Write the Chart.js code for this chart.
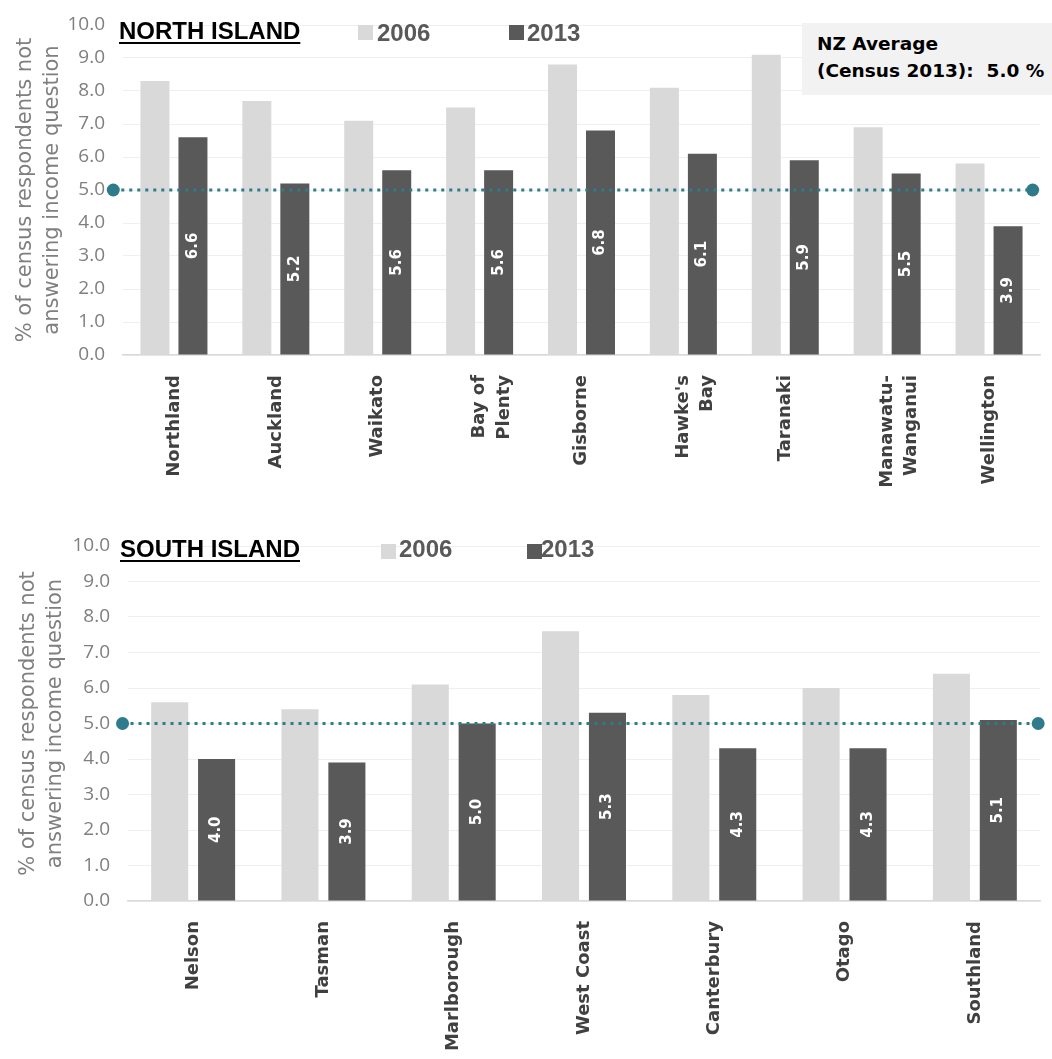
<!DOCTYPE html>
<html lang="en">
<head>
<meta charset="UTF-8">
<title>Income question non-response by region</title>
<script src="https://cdn.jsdelivr.net/npm/chart.js@4.4.1/dist/chart.umd.min.js"></script>
<style>
    body { margin: 0; background: #fff; }
    #page { position: relative; width: 1052px; height: 1059px; overflow: hidden; }
    canvas { position: absolute; left: 0; }
    .heading {
        position: absolute;
        font: bold 24px "Liberation Sans", Arial, sans-serif;
        line-height: 24px;
        color: #000;
        text-decoration: underline;
        text-decoration-thickness: 2px;
        text-underline-offset: 3px;
        white-space: nowrap;
    }
    .swatch { position: absolute; width: 15px; height: 15px; }
    .key {
        position: absolute;
        font: bold 24px "Liberation Sans", Arial, sans-serif;
        line-height: 24px;
        color: #595959;
    }
    .avg-box {
        position: absolute;
        left: 802px; top: 23px; width: 250px; height: 72px;
        background: #f2f2f2;
        font: bold 18.5px "DejaVu Sans", sans-serif;
        line-height: 27px;
        color: #000;
        padding: 7px 0 0 15px;
        box-sizing: border-box;
        white-space: nowrap;
    }
</style>
</head>
<body>
<div id="page">
    <canvas id="north" width="1052" height="505" style="top:0"></canvas>
    <canvas id="south" width="1052" height="549" style="top:510px"></canvas>

    <div class="heading" style="left:119px; top:19px">NORTH ISLAND</div>
    <div class="swatch" style="left:358px; top:25px; background:#d9d9d9"></div>
    <div class="key" style="left:377px; top:21px">2006</div>
    <div class="swatch" style="left:509px; top:25px; background:#595959"></div>
    <div class="key" style="left:527px; top:21px">2013</div>
    <div class="avg-box">NZ Average<br>(Census 2013):&nbsp; 5.0 %</div>

    <div class="heading" style="left:120px; top:537px">SOUTH ISLAND</div>
    <div class="swatch" style="left:381px; top:544px; background:#d9d9d9"></div>
    <div class="key" style="left:399px; top:537px">2006</div>
    <div class="swatch" style="left:527px; top:544px; background:#595959"></div>
    <div class="key" style="left:541px; top:537px">2013</div>
</div>
<script>
    // regions and % of respondents not answering the income question
    var northRegions = ['Northland', 'Auckland', 'Waikato', ['Bay of', 'Plenty'], 'Gisborne',
        ["Hawke's", 'Bay'], 'Taranaki', ['Manawatu-', 'Wanganui'], 'Wellington'];
    var north2006 = [8.3, 7.7, 7.1, 7.5, 8.8, 8.1, 9.1, 6.9, 5.8];
    var north2013 = [6.6, 5.2, 5.6, 5.6, 6.8, 6.1, 5.9, 5.5, 3.9];

    var southRegions = ['Nelson', 'Tasman', 'Marlborough', 'West Coast', 'Canterbury', 'Otago', 'Southland'];
    var south2006 = [5.6, 5.4, 6.1, 7.6, 5.8, 6.0, 6.4];
    var south2013 = [4.0, 3.9, 5.0, 5.3, 4.3, 4.3, 5.1];

    var NZ_AVG = 5.0;
    var yTitle = ['% of census respondents not', 'answering income question'];

    // dotted national average line with a dot at each end
    var avgLine = {
        id: 'avgLine',
        afterDatasetsDraw: function (chart, args, opts) {
            var ctx = chart.ctx;
            var area = chart.chartArea;
            var y = chart.scales.y.getPixelForValue(NZ_AVG);
            var x0 = area.left + opts.from * area.width;
            var x1 = area.left + opts.to * area.width;
            ctx.save();
            ctx.strokeStyle = '#2e7b8b';
            ctx.fillStyle = '#2e7b8b';
            ctx.lineWidth = 3;
            ctx.setLineDash([3, 5]);
            ctx.beginPath();
            ctx.moveTo(x0, y);
            ctx.lineTo(x1, y);
            ctx.stroke();
            ctx.setLineDash([]);
            [x0, x1].forEach(function (x) {
                ctx.beginPath();
                ctx.arc(x, y, 6.5, 0, Math.PI * 2);
                ctx.fill();
            });
            ctx.restore();
        }
    };

    // white rotated values inside the 2013 bars
    var barValueLabels = {
        id: 'barValueLabels',
        afterDatasetsDraw: function (chart) {
            var ctx = chart.ctx;
            var values = chart.data.datasets[1].data;
            ctx.save();
            ctx.fillStyle = '#ffffff';
            ctx.font = 'bold 15px "DejaVu Sans", sans-serif';
            ctx.textAlign = 'center';
            ctx.textBaseline = 'middle';
            chart.getDatasetMeta(1).data.forEach(function (bar, i) {
                ctx.save();
                ctx.translate(bar.x, (bar.y + bar.base) / 2);
                ctx.rotate(-Math.PI / 2);
                ctx.fillText(values[i].toFixed(1), 0, 0);
                ctx.restore();
            });
            ctx.restore();
        }
    };

    function buildChart(id, regions, v2006, v2013, box) {
        var canvas = document.getElementById(id);
        var H = canvas.height;
        return new Chart(canvas, {
            type: 'bar',
            data: {
                labels: regions,
                datasets: [{
                    label: '2006',
                    data: v2006,
                    backgroundColor: '#d9d9d9'
                }, {
                    label: '2013',
                    data: v2013,
                    backgroundColor: '#595959'
                }]
            },
            options: {
                responsive: false,
                animation: false,
                categoryPercentage: box.cat,
                barPercentage: box.bar,
                layout: {padding: {left: 0, top: box.top, right: canvas.width - box.right, bottom: 0}},
                plugins: {
                    legend: {display: false},
                    tooltip: {enabled: false},
                    avgLine: {from: box.dotL, to: box.dotR}
                },
                scales: {
                    x: {
                        grid: {display: false},
                        border: {color: '#d9d9d9', width: 1.5},
                        ticks: {
                            minRotation: 90, maxRotation: 90, autoSkip: false, padding: 12,
                            color: '#404040',
                            font: {family: '"DejaVu Sans", sans-serif', size: 18, weight: 'bold', lineHeight: 1.35}
                        },
                        afterFit: function (s) { s.height = H - box.bottom; }
                    },
                    y: {
                        min: 0, max: 10,
                        ticks: {
                            stepSize: 1, padding: 2, color: '#7f7f7f',
                            font: {family: '"Open Sans", sans-serif', size: 19},
                            callback: function (v) { return v.toFixed(1); }
                        },
                        grid: {color: '#edf0f2', tickLength: 16, tickColor: 'rgba(0,0,0,0)'},
                        border: {display: false},
                        title: {
                            display: true, text: yTitle, color: '#7f7f7f',
                            font: {family: '"DejaVu Sans", sans-serif', size: 21, lineHeight: 1.28},
                            padding: {top: box.titlePad, bottom: 0}
                        },
                        afterFit: function (s) { s.width = box.left; }
                    }
                }
            },
            plugins: [avgLine, barValueLabels]
        });
    }

    window.onload = function () {
        buildChart('north', northRegions, north2006, north2013,
            {left: 123, right: 1040, top: 25, bottom: 355, cat: 0.746, bar: 0.763,
             dotL: -0.0106, dotR: 0.992, titlePad: 12});
        buildChart('south', southRegions, south2006, south2013,
            {left: 128, right: 1040, top: 36, bottom: 391, cat: 0.72, bar: 0.79,
             dotL: -0.006, dotR: 0.998, titlePad: 15});
    };
</script>
</body>
</html>
